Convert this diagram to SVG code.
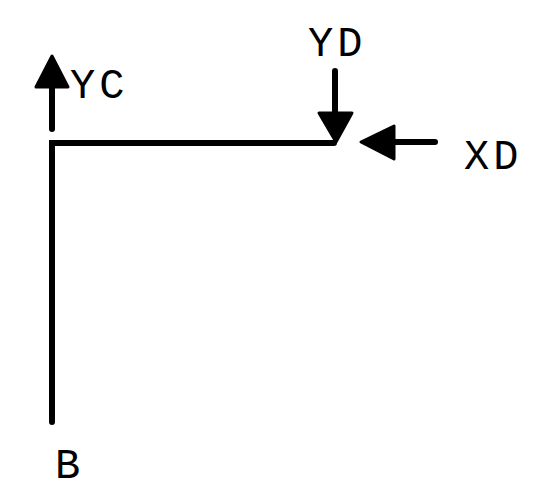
<svg xmlns="http://www.w3.org/2000/svg" width="533" height="494" viewBox="0 0 533 494">
<style>
.ln{stroke:#000;stroke-width:6;fill:none;stroke-linecap:round;stroke-linejoin:miter}
.ah{fill:#000;stroke:#000;stroke-width:3;stroke-linejoin:round}
.t{font-family:"Liberation Mono","DejaVu Sans Mono",monospace;font-size:42px;fill:#000;letter-spacing:4px}
</style>
<rect width="533" height="494" fill="#fff"/>
<g id="frame">
<path class="ln" d="M52,422 V143 H334"/>
</g>
<g id="connectors">
<g id="arrow-YC">
<line class="ln" x1="52" y1="129" x2="52" y2="80"/>
<polygon class="ah" points="52,56 68,87 36,87"/>
</g>
<g id="arrow-YD">
<line class="ln" x1="335" y1="71" x2="335" y2="115"/>
<polygon class="ah" points="336,142 352,113 319,113"/>
</g>
<g id="arrow-XD">
<line class="ln" x1="435" y1="142" x2="390" y2="142"/>
<polygon class="ah" points="361,142 394,126 394,159"/>
</g>
</g>
<g id="labels">
<text class="t" x="70" y="98">YC</text>
<text class="t" x="308" y="56">YD</text>
<text class="t" x="464" y="169">XD</text>
<text class="t" x="55" y="478">B</text>
</g>
</svg>
